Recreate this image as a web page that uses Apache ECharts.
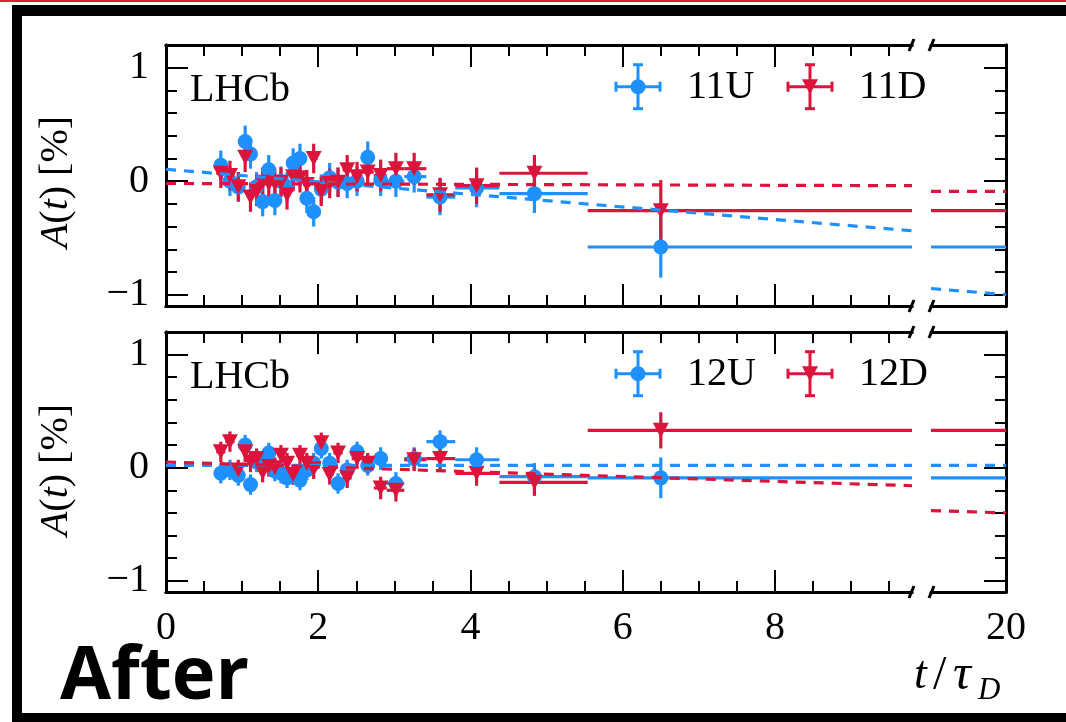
<!DOCTYPE html>
<html><head><meta charset="utf-8">
<script src="https://cdn.jsdelivr.net/npm/echarts@6/dist/echarts.min.js"></script>
<style>html,body{margin:0;padding:0;background:#fff}#c{width:1066px;height:722px}</style>
</head><body><div id="c"></div>
<script>
// ---- data ----
const binEdges   = [0.66,0.78,0.90,1.00,1.08,1.15,1.23,1.31,1.39,1.47,1.55,1.63,1.71,1.80,1.90,1.99,2.10,2.20,2.32,2.44,2.58,2.73,2.90,3.13,3.42,3.80,4.38,5.54,20];
const binCenters = [0.72,0.84,0.95,1.04,1.11,1.19,1.27,1.35,1.43,1.51,1.59,1.67,1.76,1.85,1.94,2.04,2.15,2.26,2.38,2.51,2.65,2.82,3.02,3.26,3.60,4.08,4.84,6.50];

const A11U = [0.14,0.00,-0.05,0.35,0.24,-0.05,-0.18,0.10,-0.17,0.00,-0.05,0.16,0.20,-0.15,-0.27,-0.07,0.03,-0.01,-0.02,0.00,0.21,0.01,0.00,0.04,-0.14,-0.06,-0.11,-0.58];
const E11U = [0.13,0.13,0.13,0.14,0.13,0.13,0.13,0.13,0.13,0.13,0.13,0.13,0.13,0.13,0.13,0.13,0.13,0.13,0.13,0.13,0.14,0.14,0.14,0.14,0.16,0.17,0.17,0.27];
const A11D = [0.07,0.05,-0.05,0.21,-0.14,-0.09,-0.01,-0.02,-0.02,-0.01,-0.12,0.04,0.03,-0.03,0.20,-0.09,-0.02,-0.01,0.10,0.04,0.08,0.05,0.11,0.11,-0.12,-0.04,0.07,-0.26];
const E11D = [0.13,0.13,0.13,0.13,0.13,0.13,0.13,0.13,0.13,0.13,0.13,0.13,0.13,0.13,0.13,0.13,0.13,0.13,0.13,0.13,0.13,0.14,0.14,0.14,0.15,0.16,0.16,0.27];
const A12U = [-0.05,-0.02,-0.07,0.20,-0.15,0.05,0.02,0.13,-0.03,-0.05,-0.09,-0.06,-0.11,-0.02,0.04,0.17,0.04,-0.14,-0.02,0.14,0.02,0.08,-0.14,0.08,0.23,0.07,-0.08,-0.09];
const E12U = [0.09,0.09,0.09,0.09,0.09,0.09,0.09,0.09,0.09,0.09,0.09,0.09,0.09,0.09,0.09,0.09,0.09,0.09,0.09,0.09,0.09,0.10,0.10,0.10,0.10,0.11,0.12,0.18];
const A12D = [0.14,0.23,-0.02,0.14,0.05,0.08,-0.04,0.01,0.00,0.11,0.04,-0.06,0.11,0.04,-0.01,0.22,-0.06,0.13,-0.09,0.08,0.04,-0.18,-0.20,0.07,0.08,-0.05,-0.13,0.33];
const E12D = [0.09,0.09,0.09,0.09,0.09,0.09,0.09,0.09,0.09,0.09,0.09,0.09,0.09,0.09,0.09,0.09,0.09,0.09,0.09,0.09,0.09,0.10,0.10,0.10,0.10,0.11,0.12,0.16];

// dashed fit curves: values at t = fitT (left segment ends, right segment ends)
const fitT  = [0, 9.8, 19, 20];
const fit11U = [0.105, -0.437, -0.946, -1.0];
const fit11D = [-0.02, -0.04, -0.09, -0.09];
const fit12U = [0.02, 0.02, 0.02, 0.02];
const fit12D = [0.05, -0.16, -0.38, -0.40];

const xMajor = [0, 2, 4, 6, 8];
const xMinor = [0.5,1,1.5,2.5,3,3.5,4.5,5,5.5,6.5,7,7.5,8.5,9,9.5];
const xRightLabels = [20];
const yMajor = [-1, 0, 1];
const yMinor = [-0.8,-0.6,-0.4,-0.2,0.2,0.4,0.6,0.8];
const panelLabels = [['11U','11D'],['12U','12D']];

// ---- style ----
const BLUE = '#1E90FF', RED = '#DC143C';
const SERIF = 'Liberation Serif';
const FS = 40;
const fmt = v => v < 0 ? '\u2212' + Math.abs(v) : String(v);

const grids = [
  {left:166, top:45,  width:746, height:261},
  {left:931, top:45,  width:75,  height:261},
  {left:166, top:332, width:746, height:260},
  {left:931, top:332, width:75,  height:260}
];

const xAxis = [], yAxis = [];
function addX(gi, pos, min, max, ticks, len, labels){
  xAxis.push({type:'value', gridIndex:gi, position:pos, min, max,
    axisLine:{show:true, onZero:false, lineStyle:{color:'#000', width:3}},
    axisTick:{show: ticks.length>0, inside:true, length:len, customValues: ticks.length?ticks:undefined, lineStyle:{color:'#000', width:2}},
    axisLabel:{show: !!labels, customValues: labels || undefined, margin:16, color:'#000', fontFamily:SERIF, fontSize:FS, formatter:fmt},
    splitLine:{show:false}});
  return xAxis.length - 1;
}
function addY(gi, pos, ticks, len, labels){
  yAxis.push({type:'value', gridIndex:gi, position:pos, min:-1.1, max:1.2,
    axisLine:{show:true, onZero:false, lineStyle:{color:'#000', width:3}},
    axisTick:{show:true, inside:true, length:len, customValues:ticks, lineStyle:{color:'#000', width:2}},
    axisLabel:{show: !!labels, customValues: labels || undefined, margin:17, color:'#000', fontFamily:SERIF, fontSize:FS, formatter:fmt},
    splitLine:{show:false}});
  return yAxis.length - 1;
}

const mainX = [], mainY = [];
for (let p = 0; p < 2; p++) {
  const gl = p*2, gr = p*2+1;
  mainX[gl] = addX(gl, 'bottom', 0, 9.8, xMajor, 22, p===1 ? xMajor : null);
  addX(gl, 'bottom', 0, 9.8, xMinor, 11, null);
  addX(gl, 'top', 0, 9.8, xMajor, 22, null);
  addX(gl, 'top', 0, 9.8, xMinor, 11, null);
  mainY[gl] = addY(gl, 'left', yMajor, 22, yMajor);
  addY(gl, 'left', yMinor, 11, null);
  mainX[gr] = addX(gr, 'bottom', 19, 20, [], 0, p===1 ? xRightLabels : null);
  addX(gr, 'top', 19, 20, [], 0, null);
  mainY[gr] = addY(gr, 'right', yMajor, 22, null);
  addY(gr, 'right', yMinor, 11, null);
}

function errSeries(gi, vals, errs, color){
  const data = binCenters.map((t,i) => [t, vals[i], binEdges[i], binEdges[i+1], errs[i]]);
  return {type:'custom', xAxisIndex:mainX[gi], yAxisIndex:mainY[gi], clip:true, silent:true,
    animation:false, data, encode:{x:0, y:1},
    renderItem:(params, api) => {
      const t=api.value(0), a=api.value(1), lo=api.value(2), hi=api.value(3), e=api.value(4);
      const pl=api.coord([lo,a]), pr=api.coord([hi,a]), pt=api.coord([t,a+e]), pb=api.coord([t,a-e]);
      const st={stroke:color, lineWidth:3.2};
      return {type:'group', children:[
        {type:'line', shape:{x1:pl[0],y1:pl[1],x2:pr[0],y2:pr[1]}, style:st},
        {type:'line', shape:{x1:pt[0],y1:pt[1],x2:pb[0],y2:pb[1]}, style:st}
      ]};
    }};
}
function markSeries(gi, vals, color, tri){
  return {type:'scatter', xAxisIndex:mainX[gi], yAxisIndex:mainY[gi], silent:true, animation:false,
    data: binCenters.map((t,i) => [t, vals[i]]),
    symbol: tri ? 'triangle' : 'circle', symbolRotate: tri ? 180 : 0,
    symbolSize: tri ? [16,15] : 15, itemStyle:{color, opacity:1}};
}
function fitSeries(gi, f, color, right){
  const k = right ? 2 : 0;
  return {type:'line', xAxisIndex:mainX[gi], yAxisIndex:mainY[gi], silent:true, animation:false,
    symbol:'none', clip:true,
    data:[[fitT[k], f[k]], [fitT[k+1], f[k+1]]],
    lineStyle:{color, width:3.2, type:[10,8]}};
}

const series = [];
const sets = [[A11U,E11U,A11D,E11D,fit11U,fit11D],[A12U,E12U,A12D,E12D,fit12U,fit12D]];
for (let p = 0; p < 2; p++) {
  const [aU,eU,aD,eD,fU,fD] = sets[p];
  const gl = p*2, gr = p*2+1;
  series.push(fitSeries(gl, fU, BLUE, false), fitSeries(gr, fU, BLUE, true));
  series.push(fitSeries(gl, fD, RED, false), fitSeries(gr, fD, RED, true));
  series.push(errSeries(gl, aU, eU, BLUE), errSeries(gr, aU, eU, BLUE), markSeries(gl, aU, BLUE, false));
  series.push(errSeries(gl, aD, eD, RED), errSeries(gr, aD, eD, RED), markSeries(gl, aD, RED, true));
}

// ---- decorations ----
const IT = {fontFamily:SERIF, fontStyle:'italic', fontSize:46, fill:'#000', verticalAlign:'middle'};
const graphic = [
  {type:'rect', shape:{x:0,y:0,width:1066,height:2}, style:{fill:'#e02030'}},
  {type:'rect', shape:{x:12,y:5,width:1054,height:11}, style:{fill:'#000'}},
  {type:'rect', shape:{x:12,y:5,width:10,height:717}, style:{fill:'#000'}},
  {type:'rect', shape:{x:12,y:713,width:1054,height:9}, style:{fill:'#000'}},
  {type:'text', x:60, y:678, style:{text:'After', fontFamily:'Open Sans', fontWeight:'bold', fontSize:74, fill:'#000', verticalAlign:'middle'}},
  {type:'text', x:914, y:676, style:Object.assign({text:'t'}, IT)},
  {type:'text', x:933, y:676, style:{text:'/', fontFamily:SERIF, fontSize:48, fill:'#000', verticalAlign:'middle'}},
  {type:'text', x:953, y:676, style:Object.assign({text:'\u03c4'}, IT, {fontSize:50})},
  {type:'text', x:978, y:691, style:{text:'D', fontFamily:SERIF, fontStyle:'italic', fontSize:31, fill:'#000', verticalAlign:'middle'}}
];
for (let p = 0; p < 2; p++) {
  const top = grids[p*2].top, bot = grids[p*2].top + grids[p*2].height;
  const dy = p * 287;
  graphic.push({type:'text', x:56, y:182 + p*288, rotation:Math.PI/2,
    style:{text:'{i|A}{r|(}{i|t}{r|) [%]}', align:'center', verticalAlign:'middle',
      rich:{i:{fontFamily:SERIF, fontStyle:'italic', fontSize:FS, fill:'#000'}, r:{fontFamily:SERIF, fontSize:FS, fill:'#000'}}}});
  graphic.push({type:'text', x:190, y:90 + dy, style:{text:'LHCb', fontFamily:SERIF, fontSize:FS, fill:'#000', verticalAlign:'middle'}});
  [top, bot].forEach(y => {
    [911.5, 931.5].forEach(x => {
      graphic.push({type:'line', shape:{x1:x-2.5, y1:y+6, x2:x+2.5, y2:y-6}, style:{stroke:'#000', lineWidth:3}});
    });
  });
  const cy = 86.7 + dy;
  const items = [[638, BLUE, false, panelLabels[p][0]], [810, RED, true, panelLabels[p][1]]];
  items.forEach(([cx, color, tri, label]) => {
    const st = {stroke:color, lineWidth:3};
    graphic.push({type:'line', shape:{x1:cx-22,y1:cy,x2:cx+22,y2:cy}, style:st});
    graphic.push({type:'line', shape:{x1:cx,y1:cy-22,x2:cx,y2:cy+22}, style:st});
    graphic.push({type:'line', shape:{x1:cx-22,y1:cy-5,x2:cx-22,y2:cy+5}, style:st});
    graphic.push({type:'line', shape:{x1:cx+22,y1:cy-5,x2:cx+22,y2:cy+5}, style:st});
    graphic.push({type:'line', shape:{x1:cx-5,y1:cy-22,x2:cx+5,y2:cy-22}, style:st});
    graphic.push({type:'line', shape:{x1:cx-5,y1:cy+22,x2:cx+5,y2:cy+22}, style:st});
    if (tri) graphic.push({type:'polygon', shape:{points:[[cx-8,cy-7.5],[cx+8,cy-7.5],[cx,cy+7.5]]}, style:{fill:color}});
    else graphic.push({type:'circle', shape:{cx, cy, r:7.5}, style:{fill:color}});
    graphic.push({type:'text', x:cx+49, y:cy+1, style:{text:label, fontFamily:SERIF, fontSize:FS, fill:'#000', verticalAlign:'middle'}});
  });
}

const chart = echarts.init(document.getElementById('c'));
chart.setOption({
  animation:false,
  backgroundColor:'#fff',
  grid: grids.map(g => Object.assign({containLabel:false, outerBoundsMode:'none'}, g)),
  xAxis, yAxis, series, graphic
});
</script>
</body></html>
